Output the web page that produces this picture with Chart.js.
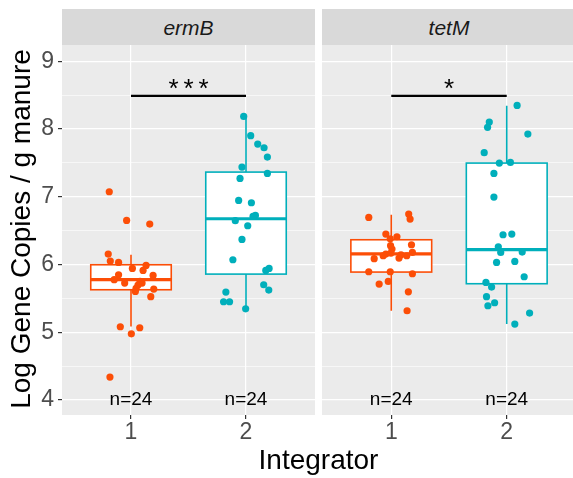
<!DOCTYPE html>
<html>
<head>
<meta charset="utf-8">
<script src="https://cdn.jsdelivr.net/npm/chart.js@4.4.1/dist/chart.umd.min.js"></script>
<style>
html,body{margin:0;padding:0;width:573px;height:478px;overflow:hidden;background:#fff;}
#wrap{position:relative;width:573px;height:478px;overflow:hidden;}
canvas{position:absolute;top:0;}
.strip{position:absolute;top:9px;height:36px;background:#D9D9D9;color:#1A1A1A;font:italic 21px "Liberation Sans",Arial,sans-serif;text-align:center;line-height:38px;}
#ytitle{position:absolute;left:-188px;top:212px;width:420px;height:34px;line-height:34px;text-align:center;transform:rotate(-90deg);font:28px "Liberation Sans",Arial,sans-serif;color:#000;white-space:nowrap;}
#xtitle{position:absolute;left:0;top:444px;width:637px;height:28px;line-height:28px;text-align:center;font:28px "Liberation Sans",Arial,sans-serif;color:#000;}
</style>
</head>
<body>
<div id="wrap">
  <canvas id="c1" width="315" height="478" style="left:0px;width:315px;height:478px"></canvas>
  <canvas id="c2" width="254" height="478" style="left:322px;width:254px;height:478px"></canvas>
  <div class="strip" id="s1" style="left:62px;width:253px"></div>
  <div class="strip" id="s2" style="left:322px;width:254px"></div>
  <div id="ytitle">Log Gene Copies / g manure</div>
  <div id="xtitle">Integrator</div>
</div>
<script>
// ---------- data ----------
const facets = ['ermB', 'tetM'];
const groups = [1, 2];
const yTicks = [4, 5, 6, 7, 8, 9];
const yMinorTicks = [4.5, 5.5, 6.5, 7.5, 8.5];
const nLabels = ['n=24', 'n=24'];
const sigStars = ['***', '*'];
const sigLineY = 8.49;
const sigStarY = 8.66;
const nLabelY = 4.02;

// jittered points (x = jittered group position, y = log copies)
const ermB_g1_x = [0.811,0.962,1.163,0.802,0.820,0.892,1.131,1.012,1.105,0.892,1.192,0.854,0.945,1.096,1.061,1.044,1.198,1.038,1.172,0.907,1.076,1.003,0.817,1.079];
const ermB_g1_y = [7.075,6.652,6.597,6.155,6.051,6.031,5.987,5.943,5.913,5.849,5.840,5.776,5.726,5.726,5.697,5.648,5.638,5.603,5.525,5.082,5.067,4.978,4.339,5.751];
const ermB_g2_x = [1.980,2.041,2.102,2.157,2.186,1.965,2.186,1.948,1.936,2.047,2.082,2.061,1.907,2.015,1.965,1.886,2.201,2.172,2.154,2.198,1.825,1.805,1.857,1.997];
const ermB_g2_y = [8.187,7.902,7.779,7.724,7.587,7.439,7.345,7.272,6.947,6.912,6.725,6.711,6.647,6.573,6.371,6.071,5.943,5.913,5.702,5.623,5.594,5.451,5.451,5.347];
const tetM_g1_x = [0.805,1.151,1.163,0.953,1.049,0.991,0.994,1.006,1.175,1.183,0.953,0.930,1.134,0.852,1.067,0.805,0.991,1.183,0.974,0.895,1.148,1.137,0.997,1.084];
const tetM_g1_y = [6.696,6.745,6.671,6.450,6.410,6.381,6.278,6.228,6.292,6.179,6.155,6.130,6.130,6.086,6.095,5.894,5.894,5.864,5.751,5.712,5.598,5.318,6.169,6.145];
const tetM_g2_x = [2.090,1.849,1.834,2.183,1.805,1.936,2.032,1.889,1.889,1.968,2.044,1.927,1.948,2.134,1.912,2.070,2.151,1.820,1.869,1.825,1.895,1.837,2.198,2.070];
const tetM_g2_y = [8.349,8.103,8.025,7.926,7.651,7.498,7.508,7.345,6.996,6.440,6.450,6.263,6.179,6.184,6.031,6.046,5.820,5.736,5.667,5.525,5.436,5.392,5.283,5.121];

// box statistics: [lower whisker, Q1, median, Q3, upper whisker]
const ermB_box_g1 = [5.087, 5.628, 5.776, 5.997, 6.145];
const ermB_box_g2 = [5.347, 5.859, 6.676, 7.365, 8.187];
const tetM_box_g1 = [5.318, 5.889, 6.159, 6.366, 6.735];
const tetM_box_g2 = [5.121, 5.717, 6.219, 7.498, 8.344];

const groupColors = ['#FC4E07', '#00AFBB'];
const FONT = '"Liberation Sans", Arial, sans-serif';

const facetData = {
  ermB: {pts: [[ermB_g1_x, ermB_g1_y], [ermB_g2_x, ermB_g2_y]], boxes: [ermB_box_g1, ermB_box_g2]},
  tetM: {pts: [[tetM_g1_x, tetM_g1_y], [tetM_g2_x, tetM_g2_y]], boxes: [tetM_box_g1, tetM_box_g2]}
};

document.getElementById('s1').textContent = facets[0];
document.getElementById('s2').textContent = facets[1];

function toXY(xs, ys) { return xs.map((x, i) => ({x: x, y: ys[i]})); }

const panelBg = {
  id: 'panelBg',
  beforeDraw(chart) {
    const a = chart.chartArea, ctx = chart.ctx;
    ctx.save();
    ctx.fillStyle = '#EBEBEB';
    ctx.fillRect(a.left, a.top, a.right - a.left, a.bottom - a.top);
    ctx.restore();
  }
};

const boxPlugin = {
  id: 'boxes',
  beforeDatasetsDraw(chart, args, opts) {
    const xs = chart.scales.x, ys = chart.scales.y, ctx = chart.ctx;
    const boxes = opts.boxes;
    ctx.save();
    boxes.forEach((b, gi) => {
      const g = groups[gi];
      const col = groupColors[gi];
      const xl = xs.getPixelForValue(g - 0.35), xr = xs.getPixelForValue(g + 0.35), xc = xs.getPixelForValue(g);
      const yLo = ys.getPixelForValue(b[0]), yQ1 = ys.getPixelForValue(b[1]), yMed = ys.getPixelForValue(b[2]);
      const yQ3 = ys.getPixelForValue(b[3]), yHi = ys.getPixelForValue(b[4]);
      ctx.strokeStyle = col;
      ctx.lineWidth = 1.6;
      ctx.beginPath();
      ctx.moveTo(xc, yQ3); ctx.lineTo(xc, yHi);
      ctx.moveTo(xc, yQ1); ctx.lineTo(xc, yLo);
      ctx.stroke();
      ctx.fillStyle = '#FFFFFF';
      ctx.fillRect(xl, yQ3, xr - xl, yQ1 - yQ3);
      ctx.strokeRect(xl, yQ3, xr - xl, yQ1 - yQ3);
      ctx.lineWidth = 3.2;
      ctx.beginPath();
      ctx.moveTo(xl, yMed); ctx.lineTo(xr, yMed);
      ctx.stroke();
    });
    ctx.restore();
  }
};

function centeredText(ctx, txt, x, yc) {
  const m = ctx.measureText(txt);
  const asc = m.actualBoundingBoxAscent, desc = m.actualBoundingBoxDescent;
  ctx.fillText(txt, x, yc + (asc - desc) / 2);
}

const annoPlugin = {
  id: 'anno',
  afterDatasetsDraw(chart, args, opts) {
    const xs = chart.scales.x, ys = chart.scales.y, ctx = chart.ctx;
    ctx.save();
    ctx.textAlign = 'center';
    ctx.textBaseline = 'alphabetic';
    ctx.fillStyle = '#000000';
    ctx.font = '19px ' + FONT;
    groups.forEach((g, i) => centeredText(ctx, nLabels[i], xs.getPixelForValue(g), ys.getPixelForValue(nLabelY)));
    ctx.font = '26px ' + FONT;
    const stars = opts.star.split('');
    const cx = xs.getPixelForValue((groups[0] + groups[1]) / 2);
    const step = 15;
    stars.forEach((s, i) => {
      centeredText(ctx, s, cx + (i - (stars.length - 1) / 2) * step, ys.getPixelForValue(sigStarY));
    });
    ctx.restore();
  }
};

function makeFacet(id, fi, showY) {
  const f = facetData[facets[fi]];
  const datasets = [];
  datasets.push({
    type: 'line',
    data: [{x: groups[0], y: sigLineY}, {x: groups[1], y: sigLineY}],
    borderColor: '#000000', borderWidth: 2.2, pointRadius: 0, fill: false, order: 0
  });
  f.pts.forEach((p, gi) => {
    datasets.push({
      type: 'scatter',
      data: toXY(p[0], p[1]),
      backgroundColor: groupColors[gi],
      borderWidth: 0,
      pointRadius: 3.6,
      pointHoverRadius: 3.6,
      order: 1
    });
  });
  const yTickAll = yTicks.concat(yMinorTicks).sort((a, b) => a - b);
  return new Chart(document.getElementById(id), {
    type: 'scatter',
    data: {datasets},
    plugins: [panelBg, boxPlugin, annoPlugin],
    options: {
      responsive: false,
      animation: false,
      devicePixelRatio: 1,
      layout: {autoPadding: false, padding: {top: 45, bottom: 33, left: 0, right: 0}},
      plugins: {
        legend: {display: false},
        tooltip: {enabled: false},
        boxes: {boxes: f.boxes},
        anno: {star: sigStars[fi]}
      },
      scales: {
        x: {
          type: 'linear', min: 0.4, max: 2.6,
          afterFit(s) { s.height = 30; },
          afterBuildTicks(s) { s.ticks = groups.map(v => ({value: v})); },
          border: {display: false},
          grid: {color: '#FFFFFF', lineWidth: 1.2, drawTicks: true, tickLength: 4, tickColor: '#333333', tickWidth: 1.2},
          ticks: {padding: 0, color: '#4D4D4D', font: {family: FONT, size: 23}, callback: v => String(v), maxRotation: 0, autoSkip: false}
        },
        y: {
          type: 'linear', min: 3.779, max: 9.241,
          afterFit(s) { s.width = showY ? 62 : 0; },
          afterBuildTicks(s) { s.ticks = yTickAll.map(v => ({value: v})); },
          border: {display: false},
          grid: {
            color: '#FFFFFF',
            lineWidth: c => (c.tick && c.tick.value % 1 !== 0) ? 0.6 : 1.2,
            drawTicks: showY, tickLength: showY ? 4 : 0, tickWidth: 1.2,
            tickColor: c => (c.tick && c.tick.value % 1 !== 0) ? 'rgba(0,0,0,0)' : '#333333'
          },
          ticks: {
            display: showY, padding: 4, color: '#4D4D4D', font: {family: FONT, size: 23},
            autoSkip: false,
            callback: v => (v % 1 === 0 ? String(v) : '')
          }
        }
      }
    }
  });
}

makeFacet('c1', 0, true);
makeFacet('c2', 1, false);
</script>
</body>
</html>
